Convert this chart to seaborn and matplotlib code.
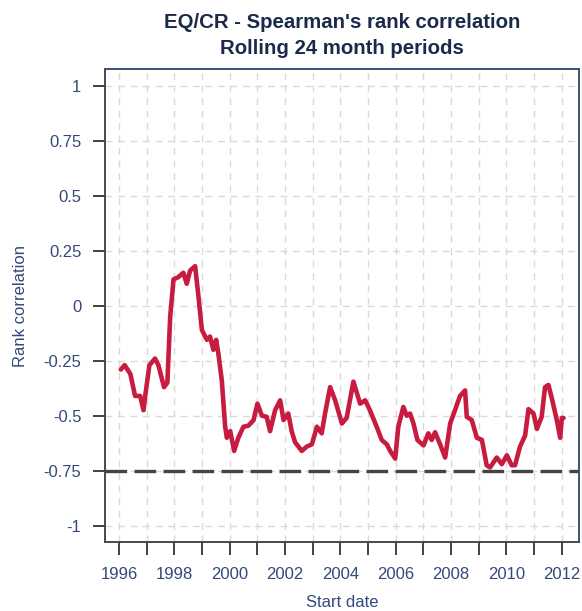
import numpy as np
import pandas as pd
import matplotlib
matplotlib.use("Agg")
import matplotlib.pyplot as plt
import seaborn as sns

# rolling 24m Spearman rank correlation (decimal years)
years = [1996.061, 1996.203, 1996.406, 1996.578, 1996.761, 1996.882, 1996.943, 1997.095, 1997.298, 1997.420,
         1997.623, 1997.744, 1997.846, 1997.967, 1998.140, 1998.322, 1998.444, 1998.566, 1998.748, 1998.870,
         1998.992, 1999.174, 1999.286, 1999.407, 1999.509, 1999.590, 1999.712, 1999.833, 1999.894, 2000.016,
         2000.158, 2000.310, 2000.492, 2000.675, 2000.858, 2000.999, 2001.162, 2001.334, 2001.456, 2001.638,
         2001.821, 2001.943, 2002.115, 2002.237, 2002.358, 2002.602, 2002.784, 2002.967, 2003.149, 2003.322,
         2003.443, 2003.626, 2003.809, 2004.052, 2004.224, 2004.468, 2004.711, 2004.894, 2005.066, 2005.309,
         2005.492, 2005.675, 2005.796, 2005.979, 2006.090, 2006.273, 2006.395, 2006.516, 2006.638, 2006.780,
         2007.003, 2007.175, 2007.297, 2007.419, 2007.601, 2007.784, 2007.966, 2008.139, 2008.321, 2008.504,
         2008.565, 2008.747, 2008.930, 2009.112, 2009.285, 2009.406, 2009.650, 2009.832, 2010.015, 2010.187,
         2010.309, 2010.491, 2010.674, 2010.796, 2010.978, 2011.100, 2011.272, 2011.394, 2011.516, 2011.638,
         2011.820, 2011.942, 2012.002, 2012.063]
rank_corr = [-0.29, -0.27, -0.31, -0.41, -0.41, -0.475, -0.41, -0.27, -0.24, -0.27,
             -0.37, -0.35, -0.05, 0.12, 0.13, 0.15, 0.10, 0.16, 0.18, 0.04,
             -0.11, -0.155, -0.14, -0.20, -0.155, -0.22, -0.34, -0.55, -0.60, -0.57,
             -0.66, -0.60, -0.55, -0.545, -0.52, -0.445, -0.50, -0.505, -0.57, -0.475,
             -0.43, -0.52, -0.49, -0.57, -0.62, -0.66, -0.64, -0.63, -0.55, -0.58,
             -0.49, -0.37, -0.43, -0.535, -0.51, -0.345, -0.445, -0.43, -0.475, -0.55,
             -0.61, -0.63, -0.66, -0.695, -0.55, -0.46, -0.50, -0.49, -0.535, -0.61,
             -0.635, -0.58, -0.61, -0.575, -0.63, -0.69, -0.535, -0.475, -0.41, -0.385,
             -0.505, -0.52, -0.60, -0.61, -0.725, -0.735, -0.69, -0.72, -0.68, -0.725,
             -0.725, -0.64, -0.59, -0.47, -0.49, -0.56, -0.505, -0.37, -0.36, -0.42,
             -0.52, -0.60, -0.51, -0.51]
ref_level = -0.75
ytick_vals = [-1, -0.75, -0.5, -0.25, 0, 0.25, 0.5, 0.75, 1]
ytick_labels = ["-1", "-0.75", "-0.5", "-0.25", "0", "0.25", "0.5", "0.75", "1"]
xtick_years = list(range(1996, 2013))

df = pd.DataFrame({"year": years, "corr": rank_corr})

sns.set_style("white")
plt.rcParams["font.family"] = ["Liberation Sans", "DejaVu Sans"]

navy = "#1C2A4A"
txt = "#34497A"

fig = plt.figure(figsize=(5.82, 6.11), dpi=100)
ax = fig.add_axes([0.1804, 0.1129, 0.8139, 0.7741])

# dashed grid at every year and every 0.25
for yv in ytick_vals:
    ax.axhline(yv, color="#DADADA", lw=1, ls=(0, (5, 4)), zorder=0)
for xv in xtick_years:
    ax.axvline(xv, color="#DADADA", lw=1, ls=(0, (5, 4)), zorder=0)

sns.lineplot(data=df, x="year", y="corr", ax=ax, color="#C81B40", lw=3.3, zorder=3)
ax.axhline(ref_level, color="#444444", lw=2.4, ls=(0, (6.5, 2.2)), zorder=4)

ax.set_xlim(1995.49, 2012.61)
ax.set_ylim(-1.074, 1.076)
ax.set_xticks(xtick_years)
ax.set_xticklabels([str(y) if y % 2 == 0 else "" for y in xtick_years])
ax.set_yticks(ytick_vals)
ax.set_yticklabels(ytick_labels)
ax.tick_params(axis="both", bottom=True, left=True, direction="out", length=9,
               width=1.3, color="#333333", labelcolor=txt, labelsize=12)
ax.tick_params(axis="x", pad=9)
ax.tick_params(axis="y", pad=8)
for side in ["left", "bottom"]:
    ax.spines[side].set_color("#4A4A4A")
for side in ["top", "right"]:
    ax.spines[side].set_color("#3D5278")
for s in ax.spines.values():
    s.set_linewidth(1.4)

ax.set_xlabel("Start date", color=txt, fontsize=12)
ax.set_ylabel("Rank correlation", color=txt, fontsize=12)
ax.xaxis.set_label_coords(0.5, -0.112)
ax.yaxis.set_label_coords(-0.163, 0.5)

# title is centred over the plot panel, not the figure
ax.text(0.5, 1 + 11 / 473, "EQ/CR - Spearman's rank correlation\nRolling 24 month periods",
        transform=ax.transAxes, ha="center", va="bottom", color=navy,
        fontsize=14.7, fontweight="bold", linespacing=1.45)

fig.savefig("out.png", dpi=100)
